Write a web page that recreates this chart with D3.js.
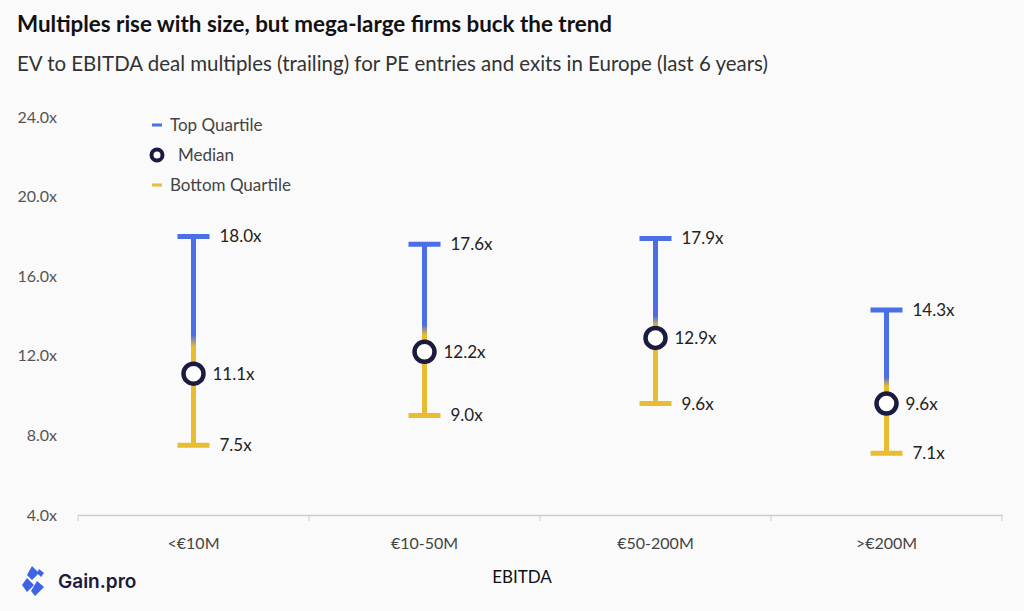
<!DOCTYPE html>
<html>
<head>
<meta charset="utf-8">
<title>EV/EBITDA multiples</title>
<script src="https://cdn.jsdelivr.net/npm/d3@7"></script>
<style>
body { margin: 0; background: #fafafa; }
text { font-family: "Source Sans Pro", Lato, "Noto Sans", sans-serif; }
</style>
</head>
<body>
<script>
// data
var categories = ["<€10M", "€10-50M", "€50-200M", ">€200M"];
var topQ = [18.0, 17.6, 17.9, 14.3];
var median = [11.1, 12.2, 12.9, 9.6];
var bottomQ = [7.5, 9.0, 9.6, 7.1];
var yTicks = [4, 8, 12, 16, 20, 24];

var W = 1024, H = 611;
var blue = "#4a6fe6", yellow = "#e9bd32", navy = "#1b1a3f";

var svg = d3.select("body").append("svg")
  .attr("width", W).attr("height", H);

svg.append("rect").attr("width", W).attr("height", H).attr("fill", "#fafafa");

// titles
svg.append("text").attr("x", 17).attr("y", 32)
  .attr("font-size", 22).attr("font-weight", 700).attr("fill", "#111")
  .attr("textLength", 595).attr("lengthAdjust", "spacingAndGlyphs")
  .text("Multiples rise with size, but mega-large firms buck the trend");
svg.append("text").attr("x", 17).attr("y", 71)
  .attr("font-size", 20.5).attr("fill", "#333")
  .attr("textLength", 751).attr("lengthAdjust", "spacingAndGlyphs")
  .text("EV to EBITDA deal multiples (trailing) for PE entries and exits in Europe (last 6 years)");

var x = d3.scaleBand().domain(categories).range([78, 1002]);
var y = d3.scaleLinear().domain([4, 24]).range([515, 117]);

// y tick labels (no gridlines)
svg.selectAll(".ytick").data(yTicks).enter().append("text")
  .attr("x", 57).attr("y", function(d){ return y(d); })
  .attr("dy", "0.35em").attr("text-anchor", "end")
  .attr("font-size", 16).attr("fill", "#555")
  .text(function(d){ return d.toFixed(1) + "x"; });

// x axis
var xAxis = svg.append("g").attr("transform", "translate(0,515)")
  .call(d3.axisBottom(x).tickSize(0).tickPadding(23));
xAxis.select(".domain").attr("stroke", "#ccc").attr("stroke-width", 1.5);
xAxis.selectAll("text").attr("font-size", 16).attr("fill", "#444")
  .style("font-family", "'Source Sans Pro', Lato, 'Noto Sans', sans-serif");
var bounds = categories.map(function(c){ return x(c); }).concat([x.range()[1]]);
svg.selectAll(".xtick").data(bounds).enter().append("line")
  .attr("x1", function(d){ return d; }).attr("x2", function(d){ return d; })
  .attr("y1", 515).attr("y2", 521).attr("stroke", "#ccc");

svg.append("text").attr("x", 522).attr("y", 583).attr("text-anchor", "middle")
  .attr("font-size", 17).attr("fill", "#111").text("EBITDA");

// gradients, one per bar: blue on top half, yellow on bottom half
var defs = svg.append("defs");
categories.forEach(function(c, i){
  var g = defs.append("linearGradient").attr("id", "grad" + i)
    .attr("gradientUnits", "userSpaceOnUse")
    .attr("x1", 0).attr("x2", 0)
    .attr("y1", y(topQ[i])).attr("y2", y(bottomQ[i]));
  g.append("stop").attr("offset", "47%").attr("stop-color", blue);
  g.append("stop").attr("offset", "53%").attr("stop-color", yellow);
});

var cw = 32;
var bars = svg.selectAll(".bar").data(categories).enter().append("g");

bars.append("rect")
  .attr("x", function(d){ return x(d) + x.bandwidth() / 2 - 2.5; })
  .attr("y", function(d, i){ return y(topQ[i]); })
  .attr("width", 5)
  .attr("height", function(d, i){ return y(bottomQ[i]) - y(topQ[i]); })
  .attr("fill", function(d, i){ return "url(#grad" + i + ")"; });

bars.append("line")
  .attr("x1", function(d){ return x(d) + x.bandwidth() / 2 - cw / 2; })
  .attr("x2", function(d){ return x(d) + x.bandwidth() / 2 + cw / 2; })
  .attr("y1", function(d, i){ return y(topQ[i]); })
  .attr("y2", function(d, i){ return y(topQ[i]); })
  .attr("stroke", blue).attr("stroke-width", 5);

bars.append("line")
  .attr("x1", function(d){ return x(d) + x.bandwidth() / 2 - cw / 2; })
  .attr("x2", function(d){ return x(d) + x.bandwidth() / 2 + cw / 2; })
  .attr("y1", function(d, i){ return y(bottomQ[i]); })
  .attr("y2", function(d, i){ return y(bottomQ[i]); })
  .attr("stroke", yellow).attr("stroke-width", 5);

bars.append("circle")
  .attr("cx", function(d){ return x(d) + x.bandwidth() / 2; })
  .attr("cy", function(d, i){ return y(median[i]); })
  .attr("r", 10).attr("fill", "#fff")
  .attr("stroke", navy).attr("stroke-width", 4.5);

// value labels
function label(vals, dx) {
  bars.append("text")
    .attr("x", function(d){ return x(d) + x.bandwidth() / 2 + dx; })
    .attr("y", function(d, i){ return y(vals[i]); })
    .attr("dy", "0.35em").attr("font-size", 17).attr("fill", "#222")
    .text(function(d, i){ return vals[i].toFixed(1) + "x"; });
}
label(topQ, 26);
label(median, 19);
label(bottomQ, 26);

// legend
var lg = svg.append("g");
lg.append("line").attr("x1", 152).attr("x2", 162).attr("y1", 125).attr("y2", 125)
  .attr("stroke", blue).attr("stroke-width", 3);
lg.append("text").attr("x", 170).attr("y", 125).attr("dy", "0.35em")
  .attr("font-size", 17).attr("fill", "#444").text("Top Quartile");
lg.append("circle").attr("cx", 157).attr("cy", 155).attr("r", 5.5)
  .attr("fill", "#fff").attr("stroke", navy).attr("stroke-width", 4);
lg.append("text").attr("x", 178).attr("y", 155).attr("dy", "0.35em")
  .attr("font-size", 17).attr("fill", "#444").text("Median");
lg.append("line").attr("x1", 152).attr("x2", 162).attr("y1", 185).attr("y2", 185)
  .attr("stroke", yellow).attr("stroke-width", 3);
lg.append("text").attr("x", 170).attr("y", 185).attr("dy", "0.35em")
  .attr("font-size", 17).attr("fill", "#444").text("Bottom Quartile");

// logo
var logo = svg.append("g").attr("transform", "translate(22,566)");
logo.append("path")
  .attr("d", "M10,0 L17,7 L10,14 L5,9 Z M5,12 L12,19 L5,26 L0,19 Z M15,15 L22,21 L13,30 L9,25 Z M17,3 L22,7 L19,11 L15,7 Z")
  .attr("fill", "#3d63e6");
logo.append("text").attr("x", 36).attr("y", 22)
  .attr("font-size", 19).attr("font-weight", 600).attr("fill", "#1a1a3a")
  .style("font-family", "Inter, 'Noto Sans', sans-serif")
  .text("Gain.pro");
</script>
</body>
</html>
